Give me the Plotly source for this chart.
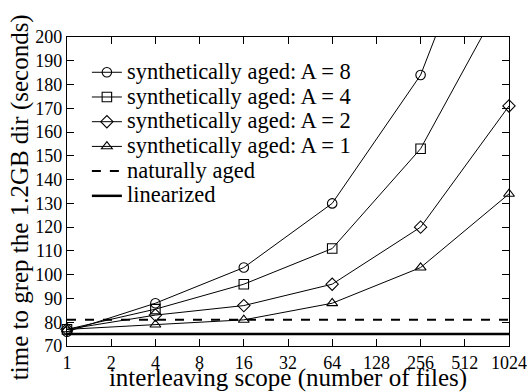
import plotly.graph_objects as go

scope = [1, 4, 16, 64, 256, 1024]
aged_a8 = [76, 88, 103, 130, 184, 280]
aged_a4 = [77, 85.5, 96, 111, 153, 221]
aged_a2 = [77, 83, 87, 96, 120, 171]
aged_a1 = [77, 79, 81, 88, 103, 134]
naturally_aged = 81
linearized = 75
x_ticks = [1, 2, 4, 8, 16, 32, 64, 128, 256, 512, 1024]
y_ticks = list(range(70, 201, 10))
legend_names = [
    "synthetically aged: A = 8",
    "synthetically aged: A = 4",
    "synthetically aged: A = 2",
    "synthetically aged: A = 1",
    "naturally aged",
    "linearized",
]
x_title = "interleaving scope (number of files)"
y_title = "time to grep the 1.2GB dir (seconds)"

FONT = "Liberation Serif, Times New Roman, serif"


def big(t):
    return ("<span style=\"font-family:'Liberation Serif','Times New Roman',serif;"
            "font-size:22.5px\">" + t + "</span>")


fig = go.Figure()
series = [
    (legend_names[0], aged_a8, "circle-open"),
    (legend_names[1], aged_a4, "square-open"),
    (legend_names[2], aged_a2, "diamond-open"),
    (legend_names[3], aged_a1, "triangle-up-open"),
]
for name, ys, sym in series:
    fig.add_trace(go.Scatter(
        x=scope, y=ys, name=big(name), mode="lines+markers",
        line=dict(color="black", width=1),
        marker=dict(symbol=sym, size=9.5, color="black", line=dict(width=1.1, color="black")),
        cliponaxis=False,
    ))
fig.add_trace(go.Scatter(
    x=[scope[0], scope[-1]], y=[naturally_aged, naturally_aged], name=big(legend_names[4]),
    mode="lines", line=dict(color="black", width=2, dash="dash"),
))
fig.add_trace(go.Scatter(
    x=[scope[0], scope[-1]], y=[linearized, linearized], name=big(legend_names[5]),
    mode="lines", line=dict(color="black", width=2.5),
))

axis_common = dict(
    showline=True, linecolor="black", linewidth=1.2, mirror="ticks",
    ticks="inside", ticklen=7, tickcolor="black", tickwidth=1,
    showgrid=False, zeroline=False, automargin=False,
    tickfont=dict(family=FONT, size=18, color="black"),
)
fig.update_xaxes(
    type="log", range=[0, 3.0103], tickvals=x_ticks, ticktext=[str(t) for t in x_ticks],
    title=dict(text=x_title, font=dict(family=FONT, size=25, color="black"), standoff=0),
    ticklabelstandoff=0,
    **axis_common,
)
fig.update_yaxes(
    range=[70, 200], tickvals=y_ticks,
    ticklabelstandoff=0,
    **axis_common,
)
fig.add_annotation(
    text=y_title, textangle=-90, showarrow=False,
    xref="paper", yref="paper", x=-0.106, y=0.482, xanchor="center", yanchor="middle",
    font=dict(family=FONT, size=25, color="black"),
)
fig.update_layout(
    width=527, height=392,
    margin=dict(l=67, r=18.3, t=37, b=46.3, autoexpand=False),
    plot_bgcolor="white", paper_bgcolor="white",
    font=dict(family=FONT, color="black"),
    legend=dict(x=0.045, y=0.942, xanchor="left", yanchor="top",
                bgcolor="rgba(0,0,0,0)", font=dict(family=FONT, size=16.7, color="black"),
                tracegroupgap=0),
    showlegend=True,
)
fig.write_html(
    "out.html",
    config={"displayModeBar": False},
    post_script="document.body.style.margin='0';document.body.style.overflow='hidden';",
)
